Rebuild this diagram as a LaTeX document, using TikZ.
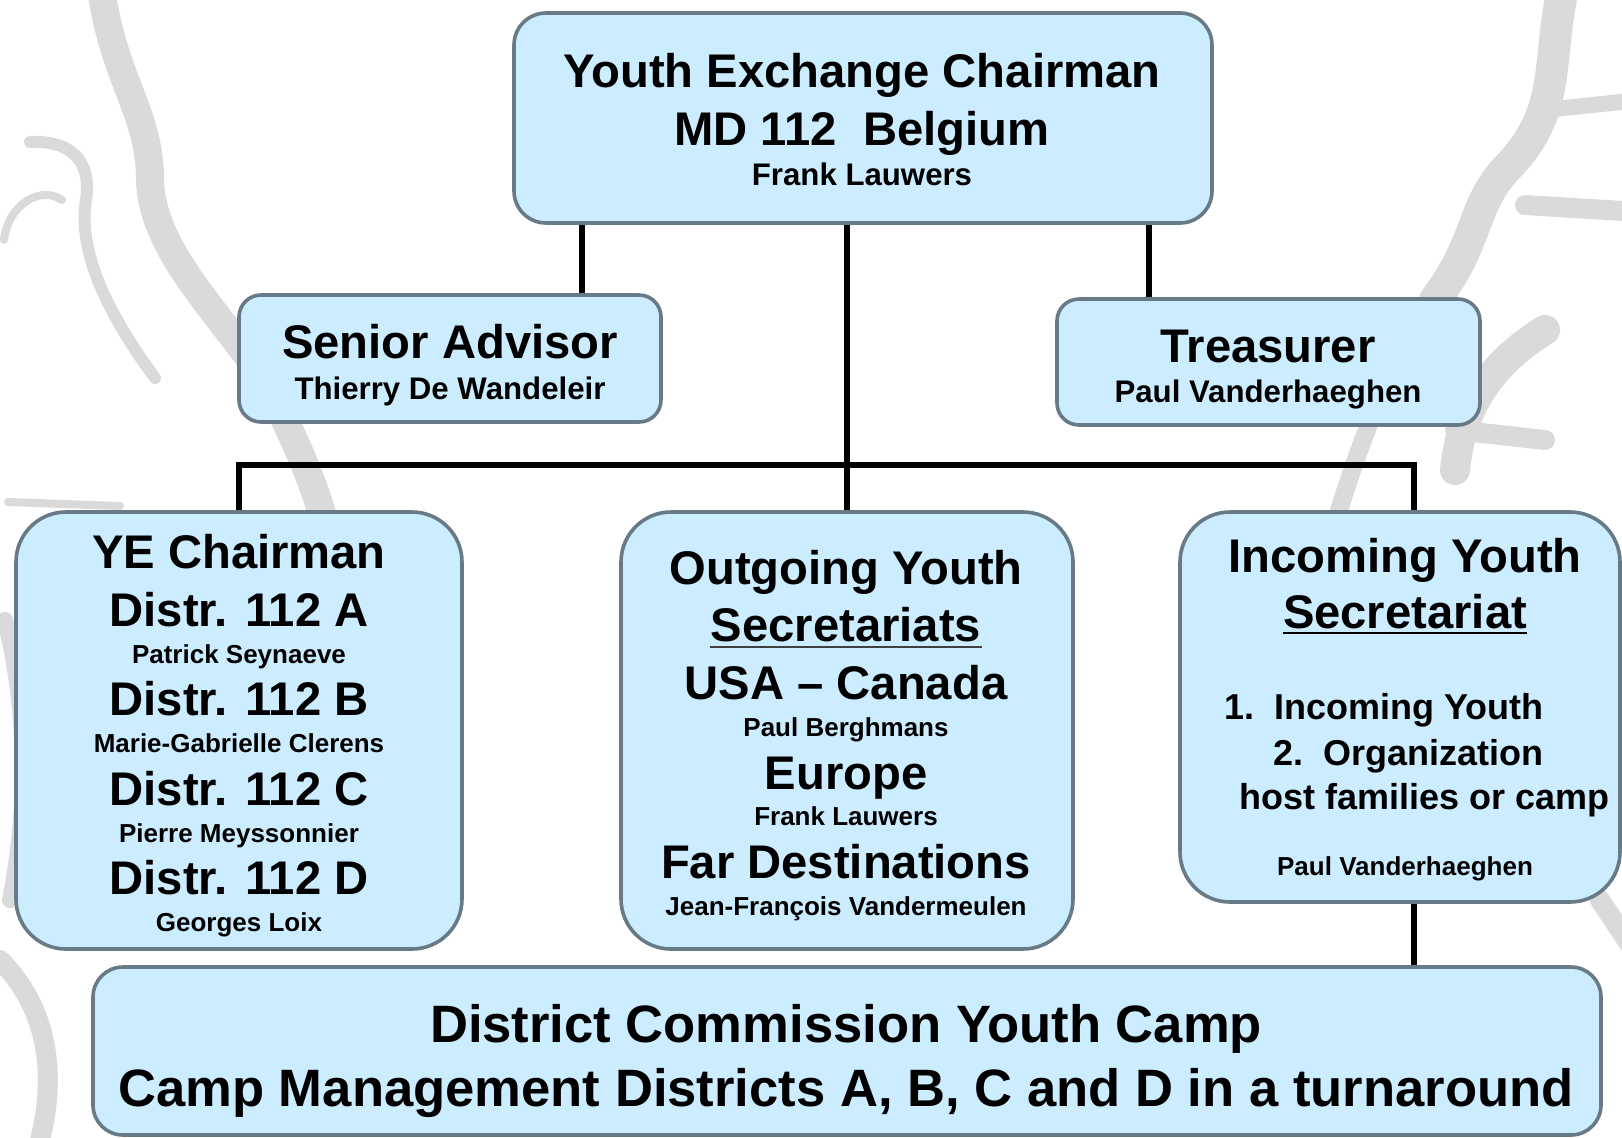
\documentclass[tikz,border=0pt]{standalone}
\usepackage{fontspec}
\setmainfont{Liberation Sans}

\definecolor{boxfill}{RGB}{204,236,255}
\definecolor{boxline}{RGB}{104,122,134}
\definecolor{wmgray}{RGB}{218,218,218}

\tikzset{
  box/.style={draw=boxline, line width=1.8pt, fill=boxfill, rounded corners=#1, inner sep=0pt},
  box/.default=12pt,
  txt/.style={anchor=base, inner sep=0pt, font=\bfseries\fontsize{#1}{#1}\selectfont},
  head/.style={txt=23.6},
  who/.style={txt=15.6},
  whos/.style={txt=13},
  item/.style={txt=18},
  camptxt/.style={txt=26.3},
  link/.style={line width=2.6pt, line join=miter},
  wm/.style={draw=wmgray, line width=#1, line cap=round, line join=round},
}

\begin{document}
\begin{tikzpicture}[x=0.5pt, y=-0.5pt]
  \useasboundingbox (0,0) rectangle (1622,1137);
  \clip (0,0) rectangle (1622,1137);

  % watermark in the background
  \draw[wm=14pt] (100,-20) .. controls (112,80) and (150,110) .. (150,180)
                 .. controls (152,260) and (240,330) .. (275,400)
                 .. controls (305,460) and (325,510) .. (335,570);
  \draw[wm=6pt] (30,142) .. controls (70,140) and (92,160) .. (86,200)
                .. controls (78,250) and (105,310) .. (155,378);
  \draw[wm=4pt] (4,240) .. controls (8,205) and (40,185) .. (62,200);
  \draw[wm=4pt] (8,502) -- (120,506);
  \draw[wm=16pt] (1565,-20) .. controls (1545,60) and (1565,110) .. (1505,170)
                 .. controls (1470,210) and (1480,240) .. (1435,300);
  \draw[wm=10pt] (1525,205) -- (1640,212);
  \draw[wm=8pt] (1545,110) -- (1640,100);
  \draw[wm=15pt] (1545,330) .. controls (1480,370) and (1460,420) .. (1455,470);
  \draw[wm=10pt] (1455,430) -- (1545,440);
  \draw[wm=9pt] (1435,300) .. controls (1390,360) and (1360,440) .. (1330,540);
  \draw[wm=10pt] (1600,900) -- (1640,960);
  \draw[wm=8pt] (5,620) .. controls (25,700) and (30,800) .. (10,900);
  \draw[wm=10pt] (0,960) .. controls (40,1000) and (60,1060) .. (40,1140);

  % boxes
  \node[box=16pt, minimum width=349pt, minimum height=105pt] (top) at (863,118) {};
  \node[box=11pt, minimum width=211pt, minimum height=63.5pt] (adv) at (450,358.5) {};
  \node[box=11pt, minimum width=211.5pt, minimum height=63pt] (trs) at (1268.5,362) {};
  \node[box=25pt, minimum width=223pt, minimum height=218.5pt] (ye) at (239,730.5) {};
  \node[box=25pt, minimum width=226pt, minimum height=218.5pt] (out) at (847,730.5) {};
  \node[box=25pt, minimum width=220pt, minimum height=195pt] (inc) at (1400,707) {};
  \node[box=15pt, minimum width=754pt, minimum height=84pt] (camp) at (847,1051) {};

  % connectors
  \coordinate (advtap) at (582,0);
  \coordinate (trstap) at (1149,0);
  \coordinate (inctap) at (1414,0);
  \coordinate (bus) at (0,465);
  \draw[link] (top.south -| advtap) -- (adv.north -| advtap);
  \draw[link] (top.south -| trstap) -- (trs.north -| trstap);
  \draw[link] (top.south -| out.north) -- (out.north);
  \draw[link] (ye.north) -- (ye.north |- bus) -- (bus -| inctap) -- (inc.north -| inctap);
  \draw[link] (inc.south -| inctap) -- (camp.north -| inctap);

  % texts
  \node[head] (top-a) at (862,87) {Youth Exchange Chairman};
  \node[head] (top-b) at (862,145) {MD 112\ \ Belgium};
  \node[who] (top-c) at (862,185) {Frank Lauwers};

  \node[head] (adv-a) at (450,358) {Senior Advisor};
  \node[who] (adv-b) at (450,399) {Thierry De Wandeleir};

  \node[head] (trs-a) at (1268,362) {Treasurer};
  \node[who] (trs-b) at (1268,402) {Paul Vanderhaeghen};

  \node[head] (ye-a) at (239,568) {YE Chairman};
  \node[head] (ye-b) at (239,626) {Distr. 112 A};
  \node[whos] (ye-c) at (239,663) {Patrick Seynaeve};
  \node[head] (ye-d) at (239,715) {Distr. 112 B};
  \node[whos] (ye-e) at (239,752) {Marie-Gabrielle Clerens};
  \node[head] (ye-f) at (239,805) {Distr. 112 C};
  \node[whos] (ye-g) at (239,842) {Pierre Meyssonnier};
  \node[head] (ye-h) at (239,894) {Distr. 112 D};
  \node[whos] (ye-i) at (239,931) {Georges Loix};

  \node[head] (out-a) at (846,584) {Outgoing Youth};
  \node[head] (out-b) at (846,641) {Secretariats};
  \node[head] (out-c) at (846,699) {USA – Canada};
  \node[whos] (out-d) at (846,736) {Paul Berghmans};
  \node[head] (out-e) at (846,789) {Europe};
  \node[whos] (out-f) at (846,825) {Frank Lauwers};
  \node[head] (out-g) at (846,878) {Far Destinations};
  \node[whos] (out-h) at (846,915) {Jean-François Vandermeulen};
  \draw[line width=1.4pt, black!75] ([yshift=-3pt]out-b.base west) -- ([yshift=-3pt]out-b.base east);

  \node[head] (inc-a) at (1405,572) {Incoming Youth};
  \node[head] (inc-b) at (1405,628) {Secretariat};
  \draw[line width=1.4pt] ([yshift=-2.5pt]inc-b.base west) -- ([yshift=-2.5pt]inc-b.base east);
  \node[item, anchor=base east] (inc-c) at (1544,719) {1.\ \ Incoming Youth};
  \node[item, anchor=base east] (inc-d) at (1544,765) {2.\ \ Organization};
  \node[item, anchor=base west] (inc-e) at (1239,809) {host families or camp};
  \node[whos] (inc-f) at (1405,875) {Paul Vanderhaeghen};

  \node[camptxt] (camp-a) at (846,1042) {District Commission Youth Camp};
  \node[camptxt] (camp-b) at (846,1106) {Camp Management Districts A, B, C and D in a turnaround};
\end{tikzpicture}
\end{document}
